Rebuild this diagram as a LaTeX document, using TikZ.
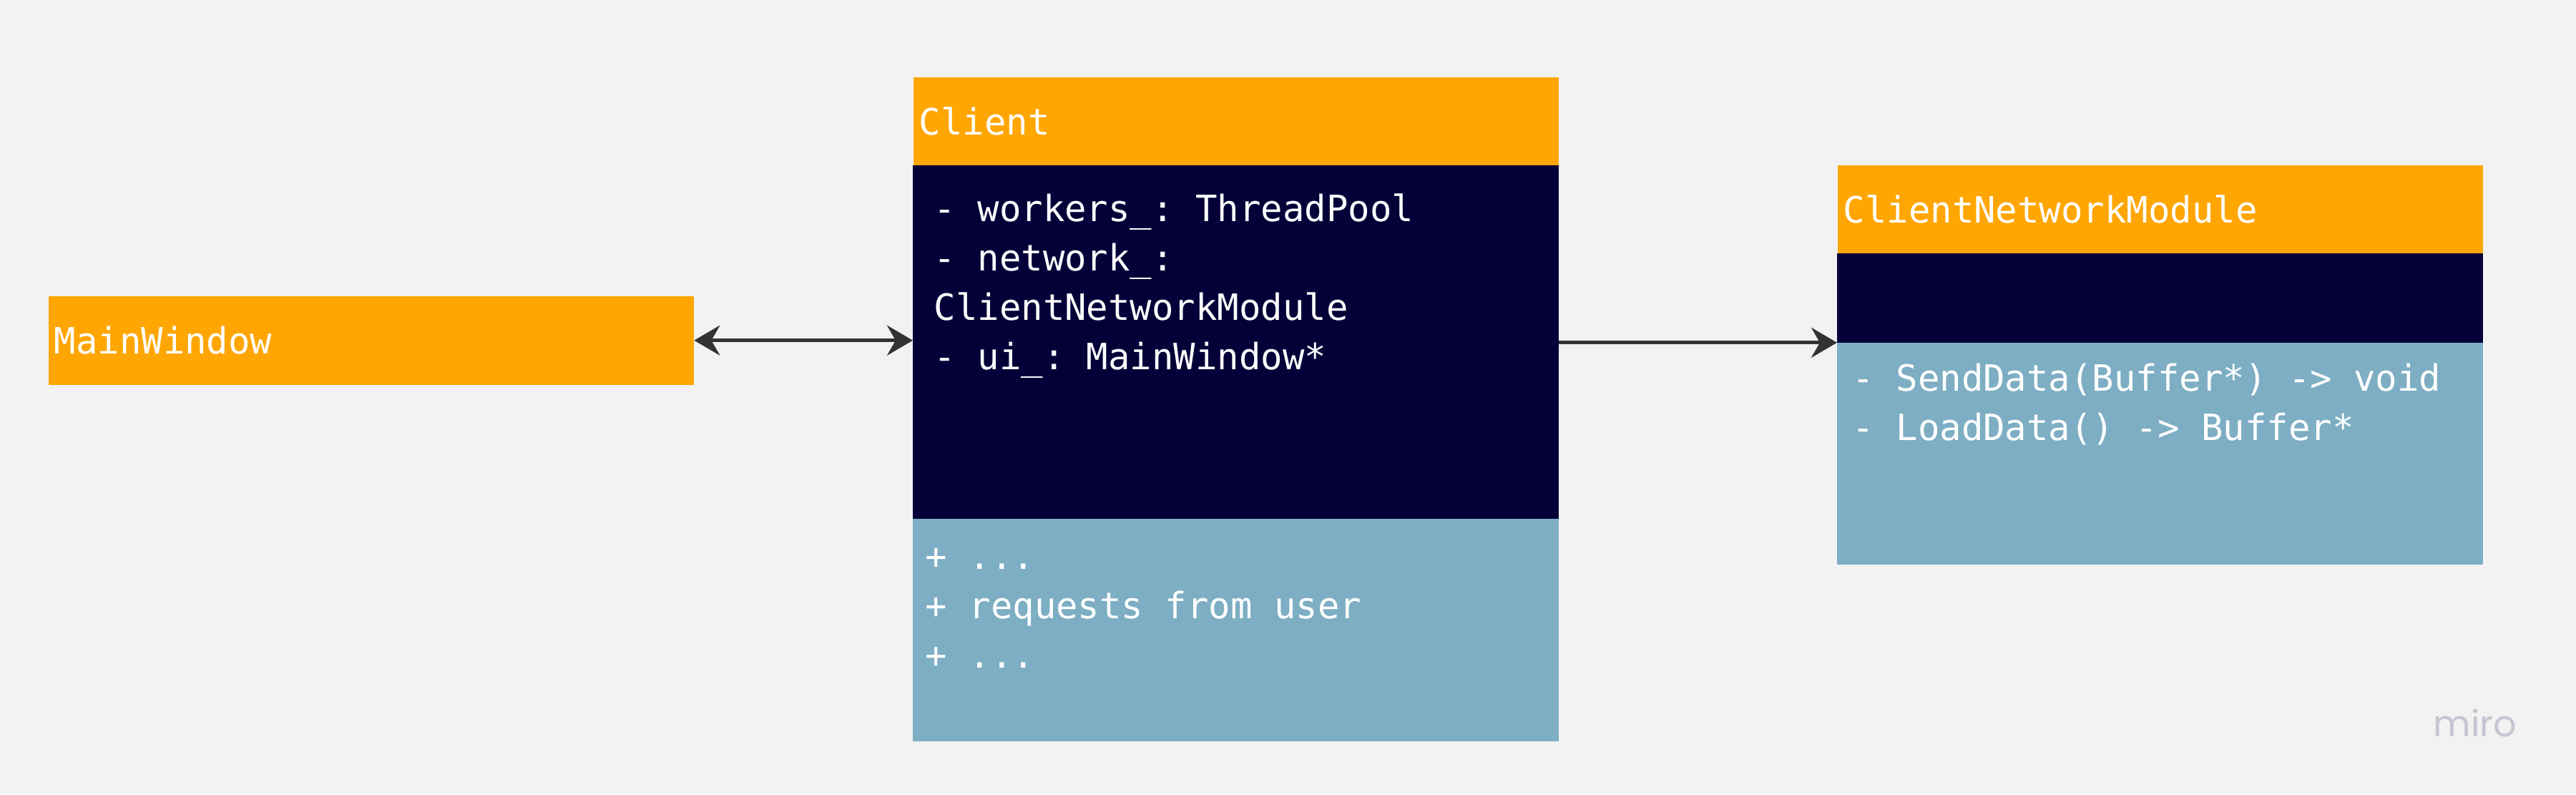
\documentclass[tikz,border=0pt]{standalone}
\usepackage{fontspec}
\setmonofont{DejaVu Sans Mono}
\newfontfamily\logofont{Poppins}
\usetikzlibrary{arrows.meta, positioning}

\newcommand{\umlfont}{\ttfamily\fontsize{14.4pt}{19.6pt}\selectfont}

\begin{document}
\begin{tikzpicture}[
    boxtitle/.style={rectangle, anchor=north west, fill=headColour, text=white, font=\umlfont,
        inner xsep=0.08cm, inner ysep=0pt, text width=\titleWidth, align=left},
    section/.style={rectangle, anchor=north west, minimum width=\boxWidth, inner sep=0pt,
        draw=#1, fill=#1, line width=0.4pt},
    membertext/.style={anchor=north west, inner sep=0pt, text=white, font=\umlfont, align=left},
    link/.style={draw=lineColour, line width=1.4pt, >={Stealth[length=0.36cm, width=0.42cm, inset=0.12cm]}}
]
    % Define sizes
    \def\boxWidth{9.02cm}
    \def\titleWidth{8.86cm}

    \definecolor{bgColour}{HTML}{F2F2F2}
    \definecolor{headColour}{HTML}{FFA602}
    \definecolor{attrColour}{HTML}{050038}
    \definecolor{opsColour}{HTML}{7DAEC3}
    \definecolor{lineColour}{HTML}{333333}
    \definecolor{logoColour}{HTML}{C6C5D2}

    % Draw background
    \useasboundingbox (0,0) rectangle (36.01,-11.10);
    \fill[bgColour] (0,0) rectangle (36.01,-11.10);

    % Draw MainWindow
    \node[boxtitle, minimum height=1.24cm] (mainwin) at (0.67,-4.13) {MainWindow};

    % Draw Client
    \node[boxtitle, minimum height=1.23cm] (client-head) at (12.76,-1.07) {Client};
    \node[section=attrColour, minimum height=4.92cm, below=0pt of client-head] (client-attr) {};
    \node[section=opsColour, minimum height=3.10cm, below=0pt of client-attr] (client-ops) {};
    \node[membertext, below right=0.29cm and 0.29cm of client-attr.north west] (client-attr-txt)
        {\strut- workers\_: ThreadPool\\- network\_:\\ClientNetworkModule\\- ui\_: MainWindow*};
    \node[membertext, below right=0.22cm and 0.17cm of client-ops.north west] (client-ops-txt)
        {\strut+ ...\\+ requests from user\\+ ...};

    % Draw ClientNetworkModule
    \node[boxtitle, minimum height=1.23cm] (cnm-head) at (25.68,-2.30) {ClientNetworkModule};
    \node[section=attrColour, minimum height=1.23cm, below=0pt of cnm-head] (cnm-attr) {};
    \node[section=opsColour, minimum height=3.09cm, below=0pt of cnm-attr] (cnm-ops) {};
    \node[membertext, below right=0.19cm and 0.21cm of cnm-ops.north west] (cnm-ops-txt)
        {\strut- SendData(Buffer*) -> void\\- LoadData() -> Buffer*};

    % Draw connectors
    \draw[link, <->] (mainwin.east) -- (mainwin.east -| client-attr.west);
    \draw[link, ->] (client-attr.east |- cnm-ops.north west) -- (cnm-ops.north west);

    % Watermark
    \node[text=logoColour, font=\logofont\fontsize{14.5pt}{17pt}\selectfont] (miro) at (34.60,-10.10) {miro};

\end{tikzpicture}
\end{document}
